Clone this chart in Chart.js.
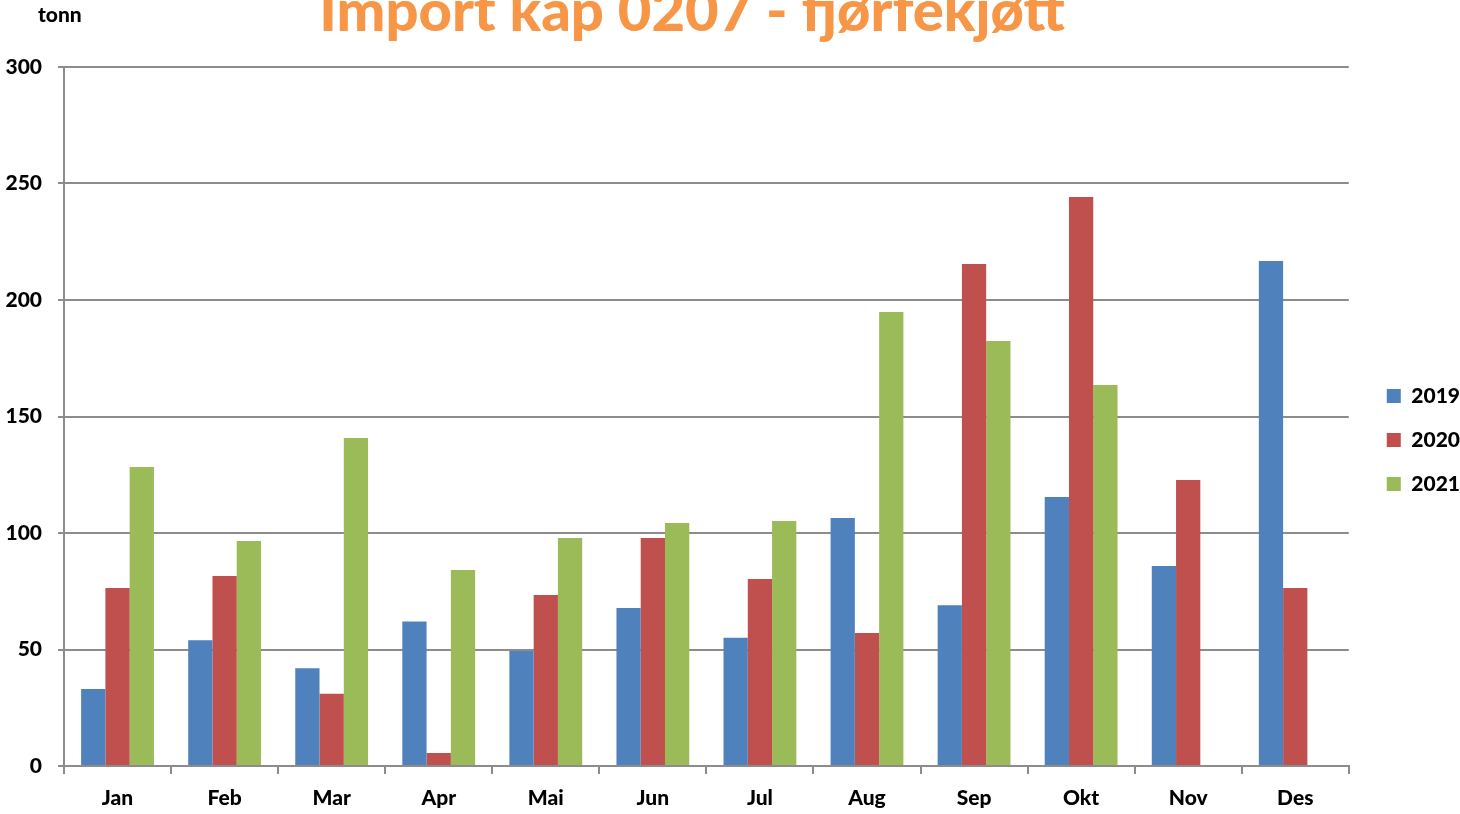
<!DOCTYPE html>
<html>
<head>
<meta charset="utf-8">
<script src="https://cdn.jsdelivr.net/npm/chart.js@4.4.1/dist/chart.umd.min.js"></script>
<style>
html,body{margin:0;padding:0;background:#fff;overflow:hidden;}
#wrap{position:absolute;left:0;top:0;width:1460px;height:814px;}
#title{position:absolute;top:-26px;left:0;width:1384px;text-align:center;font:900 58px Lato, "Open Sans", sans-serif;color:#F79646;white-space:nowrap;}
#unit{position:absolute;left:38px;top:1px;font:900 21px Lato, sans-serif;color:#000;}
</style>
</head>
<body>
<div id="wrap"><canvas id="c" width="1460" height="814"></canvas></div>
<div id="title">Import kap 0207 - fjørfekjøtt</div>
<div id="unit">tonn</div>
<script>
const categories = ["Jan","Feb","Mar","Apr","Mai","Jun","Jul","Aug","Sep","Okt","Nov","Des"];
const seriesNames = ["2019","2020","2021"];
const values2019 = [33, 54, 42, 62, 49.4, 67.8, 55, 106.4, 69, 115.5, 85.8, 216.7];
const values2020 = [76.4, 81.5, 31, 5.6, 73.4, 97.9, 80.3, 57.1, 215.5, 244.2, 122.7, 76.4];
const values2021 = [128.3, 96.6, 140.8, 84.1, 97.9, 104.3, 105.2, 194.8, 182.4, 163.5, null, null];
const yTicks = [0, 50, 100, 150, 200, 250, 300];
const colors = ["#4F81BD", "#C0504D", "#9BBB59"];

const font = {family: "Lato, 'Open Sans', sans-serif", weight: "900", size: 21};
const gridColor = "#8c8c8c";

const legendShift = {
  id: 'legendShift',
  afterLayout(chart) {
    const lg = chart.legend;
    if (lg) { lg.left += 15; lg.right += 15; }
  }
};

new Chart(document.getElementById('c'), {
  type: 'bar',
  data: {
    labels: categories,
    datasets: [
      {label: seriesNames[0], data: values2019, backgroundColor: colors[0]},
      {label: seriesNames[1], data: values2020, backgroundColor: colors[1]},
      {label: seriesNames[2], data: values2021, backgroundColor: colors[2]}
    ]
  },
  options: {
    responsive: false,
    animation: false,
    layout: {padding: {top: 67, left: 4, right: 5, bottom: 1}},
    datasets: {bar: {categoryPercentage: 0.68, barPercentage: 1.0}},
    plugins: {
      legend: {
        position: 'right',
        labels: {boxWidth: 14, boxHeight: 14, padding: 23, color: '#000', font: font}
      },
      tooltip: {enabled: false}
    },
    scales: {
      x: {
        offset: true,
        afterFit(axis) { axis.height = 47; },
        grid: {display: true, drawOnChartArea: false, drawTicks: true, tickLength: 8, offset: true, color: gridColor, lineWidth: 2},
        border: {display: true, color: gridColor, width: 2},
        ticks: {color: '#000', font: font, padding: 12, maxRotation: 0}
      },
      y: {
        min: 0, max: 300,
        afterBuildTicks(axis) { axis.ticks = yTicks.map(v => ({value: v})); },
        afterFit(axis) { axis.width = 60; },
        grid: {color: gridColor, lineWidth: 2, tickLength: 6},
        border: {display: true, color: gridColor, width: 2},
        ticks: {color: '#000', font: font, padding: 16}
      }
    }
  },
  plugins: [legendShift]
});
</script>
</body>
</html>
